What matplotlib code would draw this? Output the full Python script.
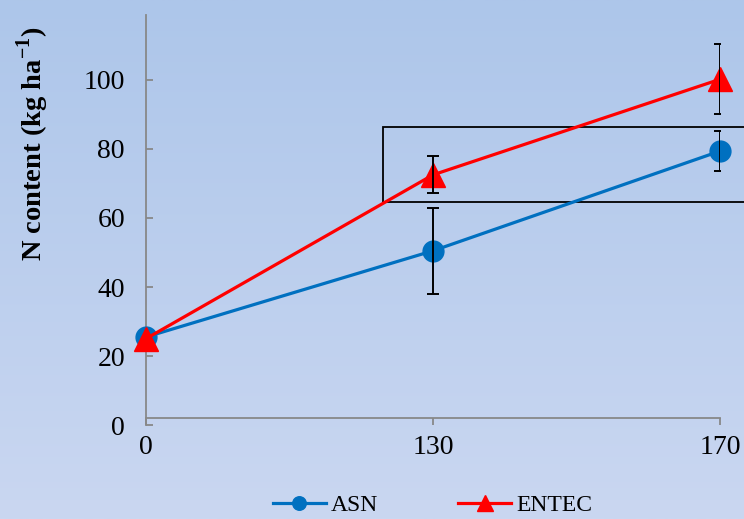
import matplotlib
matplotlib.use('Agg')
import matplotlib.pyplot as plt
import numpy as np
from matplotlib.patches import Rectangle

plt.rcParams['font.family'] = ['Liberation Serif', 'DejaVu Serif']
plt.rcParams['mathtext.fontset'] = 'custom'
plt.rcParams['mathtext.rm'] = 'Liberation Serif:bold'
plt.rcParams['mathtext.bf'] = 'Liberation Serif:bold'

# data
rates = ['0', '130', '170']
asn = [25.5, 50.5, 79.4]
asn_err = [0, 12.4, 5.8]
entec = [25.0, 72.5, 100.2]
entec_err = [0, 5.4, 10.2]

x = np.arange(len(rates))

fig = plt.figure(figsize=(7.44, 5.19), dpi=100)

# soft blue gradient background
bg = fig.add_axes([0, 0, 1, 1], zorder=-10)
grad = np.linspace(0, 1, 256).reshape(-1, 1)
top = np.array([173, 198, 234]) / 255
bot = np.array([202, 215, 241]) / 255
img = top + (bot - top) * grad[:, :, None]
bg.imshow(img, aspect='auto', extent=[0, 1, 0, 1])
bg.axis('off')

ax = fig.add_axes([0.196, 0.181, 0.772, 0.790])
ax.patch.set_alpha(0)

ax.plot(x, asn, color='#0070C0', lw=2.3, marker='o', ms=15, label='ASN',
        clip_on=False, zorder=3)
ax.errorbar(x[1:], asn[1:], yerr=asn_err[1:], fmt='none', ecolor='black',
            elinewidth=1.4, capsize=4.5, capthick=1.4, zorder=4)
ax.plot(x, entec, color='#FF0000', lw=2.3, marker='^', ms=17, label='ENTEC',
        clip_on=False, zorder=5)
ax.errorbar(x[1:], entec[1:], yerr=entec_err[1:], fmt='none', ecolor='black',
            elinewidth=1.4, capsize=4.5, capthick=1.4, zorder=6)

# highlight box
ax.add_patch(Rectangle((0.826, 64.6), 1.5, 21.8, fill=False, edgecolor='black',
                       lw=1.3, clip_on=False, zorder=2))

ax.set_xlim(0, 2)
ax.set_ylim(0, 118.8)
ax.set_xticks(x)
ax.set_xticklabels(rates)
ax.set_yticks([0, 20, 40, 60, 80, 100])

for s in ['top', 'right']:
    ax.spines[s].set_visible(False)
ax.spines['bottom'].set_position(('data', 2))
for s in ['left', 'bottom']:
    ax.spines[s].set_color('#888888')
    ax.spines[s].set_linewidth(1.3)

ax.tick_params(axis='y', direction='in', length=5, width=1.3, color='#888888',
               labelsize=20, pad=15)
ax.tick_params(axis='x', direction='out', length=5, width=1.3, color='#888888',
               labelsize=20, pad=7)

ax.set_ylabel('N content (kg ha$^{\\rm{-1}}$)', fontsize=20.5, fontweight='bold')
ax.yaxis.set_label_coords(-0.165, 0.685)

fig.legend(loc='lower center', bbox_to_anchor=(0.581, -0.036), ncol=2,
           frameon=False, fontsize=17, handlelength=2.25, columnspacing=3.4,
           handletextpad=0.2, markerscale=0.65)

fig.savefig('out.png', dpi=100)
